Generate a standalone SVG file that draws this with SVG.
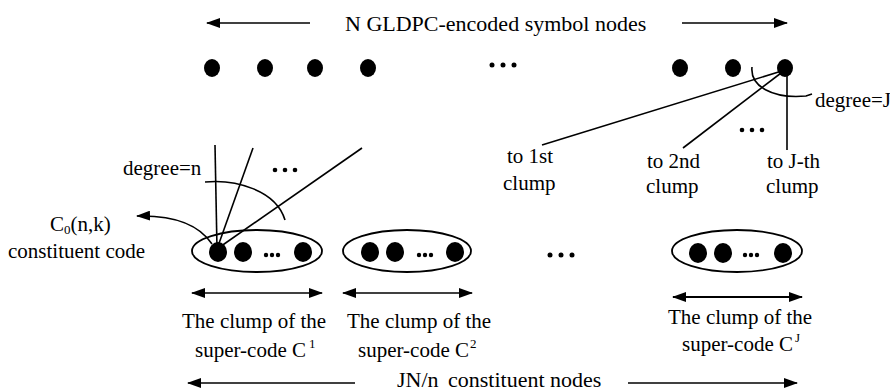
<svg xmlns="http://www.w3.org/2000/svg" width="890" height="392" viewBox="0 0 890 392" font-family="'Liberation Serif', 'DejaVu Serif', 'Times New Roman', serif">
  <defs>
    <marker id="head" viewBox="0 0 14 10" refX="13" refY="5" markerWidth="14" markerHeight="10" markerUnits="userSpaceOnUse" orient="auto-start-reverse">
      <path d="M0,0 L14,5 L0,10 Z" fill="#000"/>
    </marker>
    <style>
      text { font-family: 'Liberation Serif', 'DejaVu Serif', 'Times New Roman', serif; fill: #000; }
      .lg { font-size: 22px; }
      .md { font-size: 21px; }
      .sup { font-size: 13px; }
      .ln { stroke: #000; stroke-width: 1.6; fill: none; }
      .arr { stroke: #000; stroke-width: 1.6; fill: none; marker-end: url(#head); }
      .arr2 { stroke: #000; stroke-width: 1.6; fill: none; marker-start: url(#head); marker-end: url(#head); }
      .node { fill: #000; }
      .clump { fill: #fff; stroke: #000; stroke-width: 1.8; }
      .dot { fill: #000; }
    </style>
  </defs>
  <rect width="890" height="392" fill="#fff"/>

  <!-- symbol nodes row -->
  <g id="symbol-nodes">
    <text class="lg" x="345" y="31">N GLDPC-encoded symbol nodes</text>
    <ellipse class="node" cx="212" cy="68" rx="8" ry="9"/>
    <ellipse class="node" cx="265" cy="68" rx="8" ry="9"/>
    <ellipse class="node" cx="315" cy="68" rx="8" ry="9"/>
    <ellipse class="node" cx="368" cy="68" rx="8" ry="9"/>
    <circle class="dot" cx="492" cy="65" r="2.5"/>
    <circle class="dot" cx="503" cy="65" r="2.5"/>
    <circle class="dot" cx="514" cy="65" r="2.5"/>
    <ellipse class="node" cx="680" cy="68" rx="8" ry="9"/>
    <ellipse class="node" cx="733" cy="68" rx="8" ry="9"/>
    <ellipse id="symbol-last" class="node" cx="785" cy="68" rx="8" ry="9"/>
  </g>

  <!-- constituent-code clumps -->
  <g id="clump-1">
    <ellipse class="clump" cx="257" cy="251" rx="65" ry="21"/>
    <ellipse class="node" cx="218" cy="252" rx="9" ry="10"/>
    <ellipse class="node" cx="243" cy="252" rx="9" ry="10"/>
    <circle class="dot" cx="266" cy="255" r="2.2"/>
    <circle class="dot" cx="272" cy="255" r="2.2"/>
    <circle class="dot" cx="278" cy="255" r="2.2"/>
    <ellipse class="node" cx="303" cy="252" rx="9" ry="10"/>
  </g>
  <g id="clump-2">
    <ellipse class="clump" cx="407" cy="251" rx="64" ry="21"/>
    <ellipse class="node" cx="370" cy="252" rx="9" ry="10"/>
    <ellipse class="node" cx="395" cy="252" rx="9" ry="10"/>
    <circle class="dot" cx="419" cy="255" r="2.2"/>
    <circle class="dot" cx="425" cy="255" r="2.2"/>
    <circle class="dot" cx="431" cy="255" r="2.2"/>
    <ellipse class="node" cx="455" cy="252" rx="9" ry="10"/>
  </g>
  <g id="clump-gap">
    <circle class="dot" cx="550" cy="255" r="2.5"/>
    <circle class="dot" cx="561" cy="255" r="2.5"/>
    <circle class="dot" cx="572" cy="255" r="2.5"/>
  </g>
  <g id="clump-J">
    <ellipse class="clump" cx="737" cy="251" rx="65" ry="21"/>
    <ellipse class="node" cx="698" cy="253" rx="9" ry="10"/>
    <ellipse class="node" cx="723" cy="253" rx="9" ry="10"/>
    <circle class="dot" cx="745" cy="255" r="2.2"/>
    <circle class="dot" cx="751" cy="255" r="2.2"/>
    <circle class="dot" cx="757" cy="255" r="2.2"/>
    <ellipse class="node" cx="783" cy="253" rx="9" ry="10"/>
  </g>

  <!-- connectors -->
  <g id="connectors">
    <!-- span arrows -->
    <line class="arr" x1="310" y1="23" x2="207" y2="23"/>
    <line class="arr" x1="682" y1="23" x2="787" y2="23"/>
    <line class="arr" x1="355" y1="383" x2="188" y2="383"/>
    <line class="arr" x1="628" y1="383" x2="797" y2="383"/>
    <line class="arr2" x1="192" y1="293" x2="322" y2="293"/>
    <line class="arr2" x1="343" y1="293" x2="472" y2="293"/>
    <line class="arr2" x1="673" y1="297" x2="802" y2="297" style="stroke-width:2.2"/>

    <!-- edges of the last symbol node -->
    <line class="ln" x1="785" y1="70" x2="542" y2="145"/>
    <line class="ln" x1="785" y1="70" x2="683" y2="148"/>
    <line class="ln" x1="787" y1="70" x2="787" y2="150"/>
    <circle class="dot" cx="742" cy="130" r="2.3"/>
    <circle class="dot" cx="752" cy="130" r="2.3"/>
    <circle class="dot" cx="762" cy="130" r="2.3"/>
    <path class="ln" d="M752,67 C750,86 772,99 806,96 L812,94"/>

    <!-- edges of the first constituent node -->
    <line class="ln" x1="217" y1="249" x2="215" y2="145"/>
    <line class="ln" x1="217" y1="249" x2="253" y2="148"/>
    <line class="ln" x1="217" y1="249" x2="362" y2="148"/>
    <circle class="dot" cx="275" cy="170" r="2.3"/>
    <circle class="dot" cx="285" cy="170" r="2.3"/>
    <circle class="dot" cx="295" cy="170" r="2.3"/>
    <path class="ln" d="M205,182 C235,179 276,190 285,220"/>

    <!-- pointer to the constituent code label -->
    <path class="arr" d="M212,244 C200,226 176,215 137,216"/>
  </g>

  <!-- labels -->
  <g id="labels">
    <text class="md" x="815" y="107">degree=J</text>
    <text class="md" x="507" y="163">to 1st</text>
    <text class="md" x="503" y="190">clump</text>
    <text class="md" x="647" y="168">to 2nd</text>
    <text class="md" x="646" y="193">clump</text>
    <text class="md" x="767" y="168">to J-th</text>
    <text class="md" x="766" y="193">clump</text>
    <text class="md" x="123" y="175">degree=n</text>
    <text class="md" x="50" y="231">C<tspan class="sup" dy="3">0</tspan><tspan dy="-3">(n,k)</tspan></text>
    <text class="md" x="8" y="258">constituent code</text>

    <text class="md" x="182" y="328">The clump of the</text>
    <text class="md" x="195" y="357">super-code C<tspan class="sup" dx="3" dy="-9">1</tspan></text>
    <text class="md" x="347" y="328">The clump of the</text>
    <text class="md" x="358" y="357">super-code C<tspan class="sup" dx="1" dy="-9">2</tspan></text>
    <text class="md" x="668" y="324">The clump of the</text>
    <text class="md" x="682" y="351">super-code C<tspan class="sup" dx="2" dy="-9">J</tspan></text>

    <text class="lg" x="397" y="387">JN/n</text>
    <text class="lg" x="448" y="387">constituent nodes</text>
  </g>
</svg>
